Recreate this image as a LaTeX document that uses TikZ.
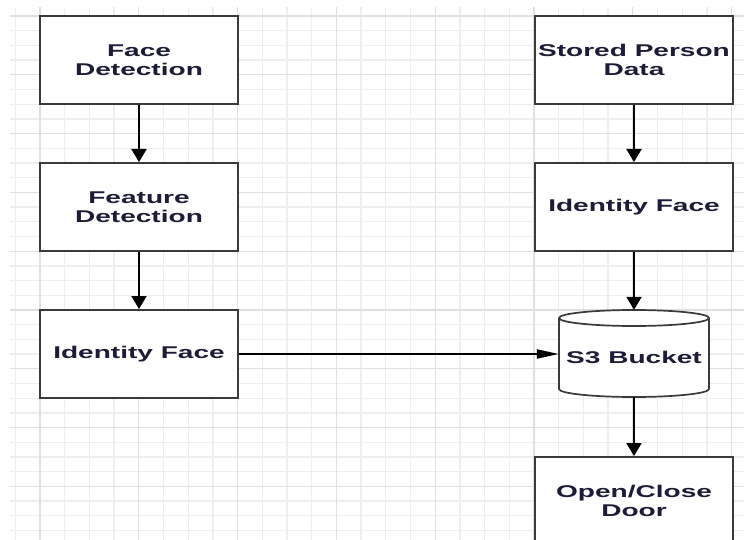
\documentclass[tikz,border=0pt]{standalone}
\usepackage{fontspec}
\setmainfont{Liberation Sans}
\usetikzlibrary{arrows.meta}
\definecolor{gridminor}{HTML}{EEEEEE}
\definecolor{gridmajor}{HTML}{E0E0E0}
\definecolor{edge}{HTML}{3A3A3A}
\definecolor{label}{HTML}{1C1C38}
% horizontally widened lettering
\newcommand{\wide}[1]{\scalebox{1.65}[1]{#1}}

\begin{document}
\begin{tikzpicture}[x=1pt,y=-1pt,
  block/.style={draw=edge, fill=white, line width=2pt,
    minimum width=198pt, minimum height=88pt, inner sep=0pt,
    font=\fontsize{17}{19.5}\selectfont\bfseries, text=label, align=center},
  drum/.style={minimum width=150pt, minimum height=87pt, inner sep=0pt,
    font=\fontsize{17}{19.5}\selectfont\bfseries, text=label},
  link/.style={draw=black, line width=2pt, -{Triangle[length=13pt,width=15pt]}},
  hlink/.style={draw=black, line width=2pt, -{Triangle[length=22pt,width=9pt]}},
]
\useasboundingbox (0,0) rectangle (744,540);
\clip (0,0) rectangle (744,540);
\fill[white] (0,0) rectangle (744,540);

% background grid
\foreach \k in {0,...,29}
  \draw[gridminor, line width=1.3pt] ({15.3+24.7*\k},7) -- ({15.3+24.7*\k},540);
\foreach \k in {0,...,35}
  \draw[gridminor, line width=1.3pt] (10,{16+14.7*\k}) -- (744,{16+14.7*\k});
\foreach \k in {1,5,...,29}
  \draw[gridmajor, line width=1.3pt] ({15.3+24.7*\k},7) -- ({15.3+24.7*\k},540);
\foreach \k in {0,4,...,32}
  \draw[gridmajor, line width=1.3pt] (10,{16+14.7*\k}) -- (744,{16+14.7*\k});

% left column
\node[block] (fd)  at (139,60)  {\wide{Face}\\\wide{Detection}};
\node[block] (fe)  at (139,207) {\wide{Feature}\\\wide{Detection}};
\node[block] (idl) at (139,354) {\wide{Identity Face}};

% right column
\node[block] (sp)   at (634,60)  {\wide{Stored Person}\\\wide{Data}};
\node[block] (idr)  at (634,207) {\wide{Identity Face}};
\node[block] (door) at (634,501) {\wide{Open/Close}\\\wide{Door}};

% storage drum
\fill[white] (559,318) -- (559,389)
  arc[start angle=180, end angle=0, x radius=75, y radius=8] -- (709,318)
  arc[start angle=0, end angle=-180, x radius=75, y radius=8] -- cycle;
\draw[edge, line width=1.7pt] (634,318) ellipse [x radius=75, y radius=8];
\draw[edge, line width=1.7pt] (559,318) -- (559,389)
  arc[start angle=180, end angle=0, x radius=75, y radius=8] -- (709,318);
\node[drum] (s3) at (634,353.5) {\raisebox{-9.5pt}[0pt][0pt]{\wide{S3 Bucket}}};

% connectors
\draw[link] (fd) -- (fe);
\draw[link] (fe) -- (idl);
\draw[link] (sp) -- (idr);
\draw[link] (idr) -- (s3);
\draw[link] (s3) -- (door);
\draw[hlink] (idl.east) -- (idl.east -| s3.west);
\end{tikzpicture}
\end{document}
